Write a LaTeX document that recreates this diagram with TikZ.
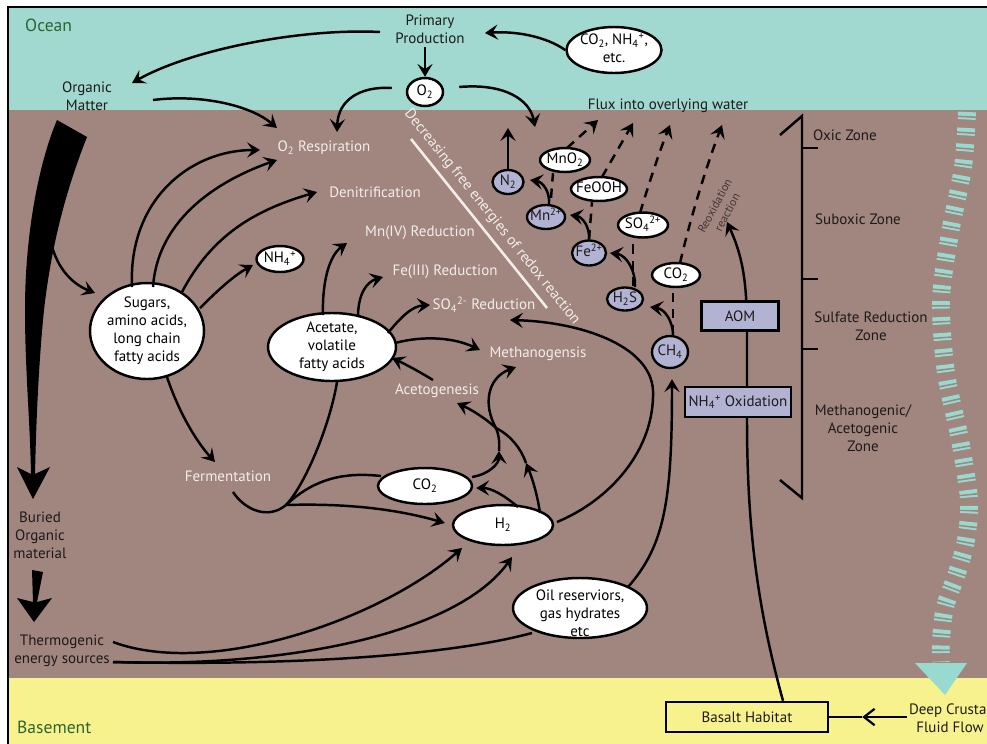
\documentclass[tikz,border=0pt]{standalone}
\usepackage{fontspec}
\setmainfont{PT Sans}
\usetikzlibrary{arrows.meta,shapes.geometric,calc}
\definecolor{oceanc}{RGB}{161,216,208}
\definecolor{sedc}{RGB}{161,133,127}
\definecolor{basec}{RGB}{248,242,142}
\definecolor{lavc}{RGB}{178,178,210}
\definecolor{wtextc}{RGB}{243,238,234}
\definecolor{gtextc}{RGB}{45,100,52}
\definecolor{dtextc}{RGB}{30,26,26}
\definecolor{rtextc}{RGB}{68,55,55}
\definecolor{flowc}{RGB}{152,218,208}
\newcommand\inell[2][0pt]{\makebox[0pt]{\smash{\raisebox{\dimexpr-.25em+#1\relax}{\begin{tabular}{@{}c@{}}#2\end{tabular}}}}}
\begin{document}
\begin{tikzpicture}[x=0.03cm,y=-0.03cm,
  lbl/.style={inner sep=0pt, font=\fontsize{12.8pt}{15.3pt}\selectfont, align=center},
  wlbl/.style={lbl, text=wtextc},
  dlbl/.style={lbl, text=dtextc},
  ell/.style={ellipse, draw=black, line width=2.1pt, fill=white, lbl, text=black},
  sell/.style={ellipse, draw=black, line width=2pt, fill=lavc, lbl, text=dtextc},
  pbox/.style={rectangle, draw=black, line width=2.1pt, fill=lavc, lbl, text=dtextc},
  ln/.style={line width=2.1pt},
  blkarr/.style={ln, -{Stealth[length=11pt,width=13pt,inset=4.5pt]}},
  dln/.style={ln, dash pattern=on 8pt off 6pt},
  darr/.style={blkarr, dash pattern=on 8pt off 6pt}
]
\useasboundingbox (0,0) rectangle (987,743);
% ---- background layers
\fill[white] (0,0) rectangle (987,743);
\fill[oceanc] (8,7) rectangle (992,110);
\fill[sedc] (8,110) rectangle (992,678);
\fill[basec] (8,678) rectangle (992,748);
\draw[line width=1.8pt] (8,748) -- (8,7) -- (992,7);

% ---- deep fluid flow (teal dashed arrow)
\draw[flowc, line width=15.3pt, dash pattern=on 6.4pt off 7.2pt] plot[smooth] coordinates {(967,112) (963,167) (950,233) (941,300) (946,373) (960,440) (969,500) (966,540) (957,573) (945,607) (941,640) (941,662)};
\draw[sedc, line width=16pt, dash pattern=on 1.3pt off 12.3pt, dash phase=10.2pt] plot[smooth] coordinates {(967,112) (963,167) (950,233) (941,300) (946,373) (960,440) (969,500) (966,540) (957,573) (945,607) (941,640) (941,662)};
\fill[flowc] (915,663) -- (967,663) -- (945,695) -- cycle;

% ---- zone bracket
\draw[ln] (780,135) -- (802,116) -- (802,498) -- (780,480);
\draw[ln] (802,148) -- (818,148);
\draw[ln] (802,279) -- (818,279);
\draw[ln] (802,349) -- (818,349);

% ---- labels
\node[dlbl, anchor=west, text=gtextc, font=\fontsize{15pt}{18pt}\selectfont] (ocean) at (25,25) {Ocean};
\node[dlbl, anchor=west, text=gtextc, font=\fontsize{15pt}{18pt}\selectfont] (basement) at (17,727) {Basement};
\node[dlbl] (pp) at (430,29) {Primary\\Production};
\node[dlbl] (om) at (87,96) {Organic\\Matter};
\node[dlbl] (flux) at (668,106) {Flux into overlying water};
\node[wlbl] (resp) at (324,148) {O\textsubscript{2} Respiration};
\node[wlbl] (denit) at (375,192) {Denitrification};
\node[wlbl] (mniv) at (420,233) {Mn(IV) Reduction};
\node[wlbl] (feiii) at (445,272) {Fe(III) Reduction};
\node[wlbl] (so4red) at (484,305) {SO\textsubscript{4}\textsuperscript{2-} Reduction};
\node[wlbl] (methano) at (538,354) {Methanogensis};
\node[wlbl] (acetog) at (437,391) {Acetogenesis};
\node[wlbl] (ferm) at (228,476) {Fermentation};
\node[dlbl] (buried) at (40,535) {Buried\\Organic\\material};
\node[dlbl] (thermo) at (62,651) {Thermogenic\\energy sources};
\node[dlbl] (deep) at (950,718) {Deep Crustal\\Fluid Flow};
\node[dlbl] (oxic) at (845,135) {Oxic Zone};
\node[dlbl] (subox) at (858,219) {Suboxic Zone};
\node[dlbl] (sulf) at (871,326) {Sulfate Reduction\\Zone};
\node[dlbl] (methz) at (863,428) {Methanogenic/\\Acetogenic\\Zone};
\node[wlbl, rotate=-51.2] (decr) at (492,217) {Decreasing free energies of redox reaction};
\draw[wtextc, line width=2.2pt] (411,139) -- (547,308);
\node[lbl, text=rtextc, font=\fontsize{10pt}{12pt}\selectfont, rotate=62] (reox) at (721,209) {Reoxidation\\reaction};

% ---- ellipses
\node[ell, minimum width=2.85cm, minimum height=1.38cm] (co2top) at (614,50) {\inell{CO\textsubscript{2}, NH\textsubscript{4}\textsuperscript{+},\\etc.}};
\node[ell, minimum width=1.08cm, minimum height=0.84cm] (o2) at (425,92) {\inell{O\textsubscript{2}}};
\node[ell, minimum width=1.41cm, minimum height=0.78cm] (nh4) at (280,259) {\inell{NH\textsubscript{4}\textsuperscript{+}}};
\node[ell, minimum width=3.42cm, minimum height=2.88cm] (sug) at (147,331) {\inell{Sugars,\\amino acids,\\long chain\\fatty acids}};
\node[ell, minimum width=3.84cm, minimum height=2.04cm] (acet) at (332,347) {\inell{Acetate,\\volatile\\fatty acids}};
\node[ell, minimum width=2.82cm, minimum height=1.08cm] (co2b) at (425,486) {\inell{CO\textsubscript{2}}};
\node[ell, minimum width=3.0cm, minimum height=1.2cm] (h2) at (503,525) {\inell{H\textsubscript{2}}};
\node[ell, minimum width=4.02cm, minimum height=1.8cm] (oil) at (580,608) {\inell[-6pt]{Oil reserviors,\\gas hydrates\\etc}};
\node[sell, minimum width=0.93cm, minimum height=0.72cm] (n2) at (508,182) {\inell{N\textsubscript{2}}};
\node[ell, minimum width=1.5cm, minimum height=0.72cm] (mno2) at (565,160) {\inell{MnO\textsubscript{2}}};
\node[sell, minimum width=1.14cm, minimum height=0.72cm] (mn) at (546,217) {\inell{Mn\textsuperscript{2+}}};
\node[ell, minimum width=1.68cm, minimum height=0.72cm] (feooh) at (599,189) {\inell{FeOOH}};
\node[sell, minimum width=1.02cm, minimum height=0.75cm] (fe) at (589,253) {\inell{Fe\textsuperscript{2+}}};
\node[ell, minimum width=1.5cm, minimum height=0.75cm] (so4) at (643,225) {\inell{SO\textsubscript{4}\textsuperscript{2+}}};
\node[ell, minimum width=1.44cm, minimum height=0.72cm] (co2r) at (676,275) {\inell{CO\textsubscript{2}}};
\node[sell, minimum width=1.08cm, minimum height=0.69cm] (h2s) at (625,299) {\inell{H\textsubscript{2}S}};
\node[sell, minimum width=1.08cm, minimum height=0.96cm] (ch4) at (670,352) {\inell{CH\textsubscript{4}}};

% ---- basalt habitat and long line
\node[pbox, fill=basec, minimum width=4.86cm, minimum height=0.9cm] (basalt) at (747,717) {Basalt Habitat};
\draw[blkarr] ($(basalt.north)+(36,0)$) .. controls (758,610) and (747,530) .. (747,420) -- (747,330) .. controls (747,280) and (742,255) .. ($(reox)+(6,13)$);
\node[pbox, minimum width=2.31cm, minimum height=0.87cm] (aom) at (740,316) {AOM};
\node[pbox, minimum width=3.18cm, minimum height=0.9cm] (nh4ox) at (738,402) {NH\textsubscript{4}\textsuperscript{+} Oxidation};
\coordinate (DA) at ($(basalt.east)+(33,0)$);
\draw[line width=1.9pt, -{Straight Barb[length=9pt,width=14pt]}] ($(deep)+(-43,-1)$) -- (DA);
\draw[line width=1.9pt] (DA) -- (basalt.east);

% ---- black wedges
\fill[black] (57,120) -- (87,137) .. controls (68,185) and (52,240) .. (44,310) .. controls (38,370) and (36,430) .. (35,474) -- (50,467) -- (33,499) -- (17,467) -- (31,474) .. controls (30,420) and (25,370) .. (25,310) .. controls (25,230) and (40,160) .. (57,120) -- cycle;
\coordinate (wb) at (50,238);
\draw[blkarr] (wb) .. controls (55,265) and (70,283) .. ($(sug)+(-52,-38)$);
\fill[black] (32,570) -- (43,572) -- (37,602) -- (52,598) -- (34,622) -- (17,598) -- (33,602) -- cycle;

% ---- top arrows
\draw[blkarr] ($(pp)+(-50,3)$) .. controls (300,28) and (190,50) .. ($(om)+(45,-13)$);
\draw[blkarr] (co2top.west) .. controls (545,36) and (515,31) .. ($(pp)+(55,4)$);
\draw[blkarr] ($(pp)+(-5,18)$) -- (o2.north);
\draw[blkarr] ($(o2.west)+(-14,-4)$) .. controls (360,86) and (338,100) .. ($(resp)+(13,-16)$);
\draw[blkarr] ($(o2.east)+(15,-5)$) .. controls (505,83) and (530,100) .. ($(flux)+(-133,21)$);
\draw[blkarr] ($(om)+(66,4)$) .. controls (200,94) and (250,105) .. ($(resp)+(-47,-20)$);

% ---- sugars
\draw[blkarr] ($(sug)+(-15,-44)$) .. controls (128,200) and (190,150) .. ($(resp)+(-64,2)$);
\draw[blkarr] ($(sug)+(6,-44)$) .. controls (158,215) and (225,178) .. ($(resp)+(-47,12)$);
\draw[blkarr] ($(sug)+(35,-39)$) .. controls (212,235) and (255,210) .. ($(denit)+(-58,0)$);
\draw[blkarr] ($(sug)+(53,-23)$) .. controls (220,288) and (235,275) .. ($(nh4)+(-27,6)$);
\draw[blkarr] ($(sug)+(20,46)$) .. controls (178,410) and (195,440) .. ($(ferm)+(-13,-14)$);

% ---- acetate
\draw[blkarr] ($(acet)+(-9,-32)$) .. controls (322,280) and (330,255) .. ($(mniv)+(-73,10)$);
\draw[blkarr] ($(acet)+(26,-30)$) .. controls (358,295) and (366,282) .. ($(feiii)+(-62,5)$);
\draw[blkarr] ($(acet)+(56,-14)$) .. controls (400,318) and (412,306) .. ($(so4red)+(-54,0)$);
\draw[blkarr] ($(acet)+(63,-4)$) .. controls (425,335) and (455,338) .. ($(methano)+(-58,-4)$);
\draw[blkarr] ($(acetog)+(-4,-11)$) .. controls (420,372) and (405,364) .. ($(acet)+(60,11)$);

% ---- fermentation junction
\coordinate (J) at (286,505);
\draw[ln] ($(ferm)+(5,16)$) .. controls (245,510) and (268,520) .. (J);
\draw[ln] ($(acet)+(5,35)$) .. controls (330,425) and (305,485) .. (J);
\draw[ln] (J) .. controls (315,478) and (345,472) .. ($(co2b)+(-44,-10)$);
\draw[blkarr] (J) .. controls (350,503) and (400,510) .. ($(h2.west)+(-7,-2)$);

% ---- H2 / CO2 network
\draw[blkarr] ($(h2)+(15,-18)$) .. controls (505,496) and (492,488) .. ($(co2b.east)+(3,2)$);
\coordinate (K) at (496,428);
\coordinate (M1) at (499,451);
\coordinate (M2) at (526,463);
\draw[blkarr] ($(co2b)+(47,-9)$) .. controls (490,474) and (499,463) .. (M1);
\draw[ln] (M1) .. controls (500,440) and (498,433) .. (K);
\draw[blkarr] (K) .. controls (483,405) and (487,378) .. ($(methano)+(-22,13)$);
\draw[blkarr] ($(h2)+(37,-12)$) .. controls (537,492) and (531,475) .. (M2);
\draw[ln] (M2) .. controls (521,448) and (510,435) .. (K);
\draw[blkarr] (K) .. controls (485,418) and (472,410) .. ($(acetog)+(20,12)$);
\draw[blkarr] ($(h2)+(54,-3)$) .. controls (610,500) and (655,450) .. (653,390) .. controls (650,345) and (580,322) .. ($(so4red)+(26,15)$);

% ---- thermogenic and oil
\draw[blkarr] ($(thermo)+(51,-9)$) .. controls (210,678) and (380,620) .. ($(h2)+(-41,23)$);
\draw[blkarr] ($(thermo)+(51,11)$) .. controls (300,668) and (460,630) .. ($(h2)+(9,32)$);
\draw[ln] ($(thermo)+(51,11)$) .. controls (300,666) and (450,655) .. ($(oil)+(-48,25)$);
\draw[blkarr] ($(oil)+(48,-21)$) .. controls (665,545) and (672,500) .. ($(ch4.south)+(2,10)$);

% ---- redox chain
\draw[blkarr] ($(ch4.north)+(3,0)$) .. controls (673,322) and (665,309) .. ($(h2s)+(25,8)$);
\draw[blkarr] ($(h2s)+(10,-12)$) .. controls (636,272) and (627,255) .. ($(fe)+(21,0)$);
\draw[blkarr] (fe.north) .. controls (590,228) and (583,217) .. ($(mn)+(24,-2)$);
\draw[blkarr] ($(mn.north)+(3,0)$) .. controls (550,192) and (543,182) .. ($(n2)+(22,-2)$);
\draw[blkarr] (n2.north) -- ($(n2)+(0,-54)$);

% ---- dashed reoxidation
\draw[dln] ($(mn.north)+(5,-6)$) -- ($(mno2.south)+(-12,0)$);
\draw[darr] ($(mno2)+(2,-12)$) -- ($(flux)+(-70,14)$);
\draw[dln] (fe.north) -- ($(feooh.south)+(-7,0)$);
\draw[darr] ($(feooh)+(3,-12)$) -- ($(flux)+(-35,17)$);
\draw[dln] ($(h2s.north)+(8,0)$) -- ($(so4.south)+(-10,0)$);
\draw[darr] ($(so4)+(-3,-12)$) .. controls (650,180) and (660,150) .. ($(flux)+(2,19)$);
\draw[dln] ($(ch4.north)+(3,0)$) -- ($(co2r.south)+(-3,0)$);
\draw[darr] ($(co2r)+(4,-12)$) .. controls (690,220) and (705,170) .. ($(flux)+(54,19)$);
\end{tikzpicture}
\end{document}
